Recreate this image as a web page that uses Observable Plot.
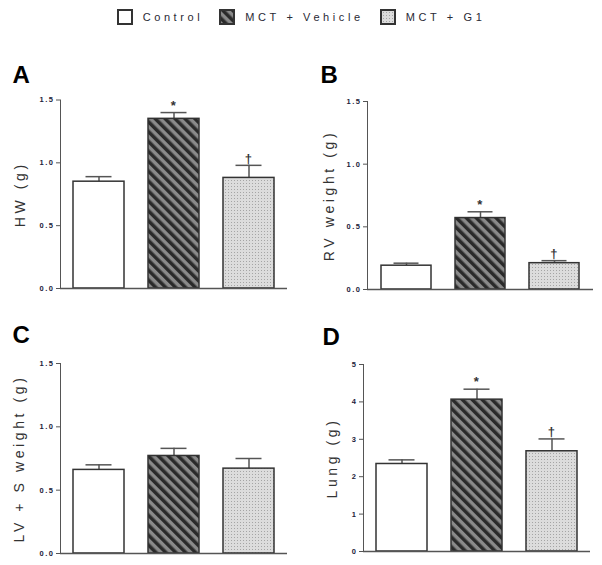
<!DOCTYPE html>
<html>
<head>
<meta charset="utf-8">
<script src="https://cdn.jsdelivr.net/npm/d3@7"></script>
<script src="https://cdn.jsdelivr.net/npm/@observablehq/plot@0.6"></script>
<style>
  body { margin: 0; background: #fff; font-family: "Liberation Sans", Arial, sans-serif; }
  #legend { position: relative; height: 45px; display: flex; justify-content: center; align-items: flex-start; padding-top: 9px; box-sizing: border-box; }
  .item { display: flex; align-items: center; margin: 0 8px; }
  .item span { font-size: 11px; letter-spacing: 3.6px; color: #2a2a35; margin-left: 10px; line-height: 15px; }
  #grid { display: grid; grid-template-columns: 301px 301px; }
  svg text { letter-spacing: 1.5px; }
  g[aria-label="y-axis tick label"] text { fill: #22223a; }
  .ylab text { letter-spacing: 3.6px; }
</style>
</head>
<body>
<svg width="0" height="0" style="position:absolute">
  <defs>
    <pattern id="hatch" patternUnits="userSpaceOnUse" width="7" height="7" patternTransform="rotate(-45)">
      <rect width="7" height="7" fill="#8a8a8a"></rect>
      <rect width="3.5" height="7" fill="#2a2a2a"></rect>
    </pattern>
    <pattern id="dots" patternUnits="userSpaceOnUse" width="3" height="3">
      <rect width="3" height="3" fill="#dcdcdc"></rect>
      <rect width="1" height="1" fill="#a5a5a5"></rect>
    </pattern>
  </defs>
</svg>
<div id="legend"></div>
<div id="grid"></div>
<script>
// ---- data ----
const groups = ["Control", "MCT + Vehicle", "MCT + G1"];
const fills = ["white", "url(#hatch)", "url(#dots)"];

const hwMean = [0.85, 1.35, 0.88];
const hwSem = [0.04, 0.05, 0.10];
const hwSig = ["", "*", "†"];

const rvMean = [0.19, 0.57, 0.21];
const rvSem = [0.02, 0.05, 0.02];
const rvSig = ["", "*", "†"];

const lvsMean = [0.66, 0.77, 0.67];
const lvsSem = [0.04, 0.06, 0.08];
const lvsSig = ["", "", ""];

const lungMean = [2.34, 4.06, 2.68];
const lungSem = [0.11, 0.28, 0.33];
const lungSig = ["", "*", "†"];

const ticks15 = [0, 0.5, 1.0, 1.5];
const ticks5 = [0, 1, 2, 3, 4, 5];

// ---- legend ----
const legend = document.getElementById("legend");
groups.forEach((g, i) => {
  const item = document.createElement("div");
  item.className = "item";
  item.innerHTML = `<svg width="16" height="16"><rect x="1" y="1" width="14" height="14" fill="${fills[i]}" stroke="#333" stroke-width="2"></rect></svg><span>${g}</span>`;
  legend.appendChild(item);
});

// ---- panels ----
function panel({mean, sem, sig, letter, label, domain, ticks, fmt, height, mL, mR, mT, mB, letterDx, letterDy, labelDx}) {
  const data = groups.map((g, i) => ({group: g, mean: mean[i], top: mean[i] + sem[i], sig: sig[i]}));
  const svg = Plot.plot({
    width: 301,
    height,
    marginLeft: mL,
    marginRight: mR,
    marginTop: mT,
    marginBottom: mB,
    style: {fontFamily: "Liberation Sans, Arial, sans-serif", fontSize: "7.5px", fontWeight: "bold", color: "#555", background: "white", overflow: "visible"},
    x: {domain: groups, axis: null, paddingInner: 0.32, paddingOuter: 0.17},
    y: {domain, ticks, tickFormat: fmt, tickSize: 4, tickPadding: 2, line: true, label: null},
    color: {type: "ordinal", domain: groups, range: fills},
    marks: [
      Plot.ruleX(data, {x: "group", y1: "mean", y2: "top", stroke: "#555", strokeWidth: 1.5}),
      Plot.tickY(data, {x: "group", y: "top", insetLeft: 12.5, insetRight: 12.5, stroke: "#555", strokeWidth: 1.5}),
      Plot.barY(data, {x: "group", y: "mean", fill: "group", stroke: "#333", strokeWidth: 1.5}),
      Plot.ruleY([0], {stroke: "#555", strokeWidth: 1.5}),
      Plot.text(data.filter(d => d.sig), {x: "group", y: "top", text: "sig", dy: -7, fontSize: 13, fontWeight: "bold", fill: "#333"}),
      Plot.text([letter], {frameAnchor: "top-left", textAnchor: "start", lineAnchor: "top", dx: letterDx, dy: letterDy, fontSize: 24, fontWeight: "bold", fill: "#000"}),
      Plot.text([label], {frameAnchor: "left", textAnchor: "middle", lineAnchor: "middle", rotate: -90, dx: labelDx, fontSize: 14, fontWeight: "normal", fill: "#333", className: "ylab"})
    ]
  });
  document.getElementById("grid").appendChild(svg);
}

const f1 = d3.format(".1f");
const f0 = d3.format("d");

panel({mean: hwMean, sem: hwSem, sig: hwSig, letter: "A", label: "HW (g)", domain: [0, 1.5], ticks: ticks15, fmt: f1,
  height: 255, mL: 60, mR: 14, mT: 54.5, mB: 12, letterDx: -48, letterDy: -34.5, labelDx: -40});
panel({mean: rvMean, sem: rvSem, sig: rvSig, letter: "B", label: "RV weight (g)", domain: [0, 1.5], ticks: ticks15, fmt: f1,
  height: 255, mL: 66, mR: 9, mT: 56, mB: 11, letterDx: -47, letterDy: -36, labelDx: -38});
panel({mean: lvsMean, sem: lvsSem, sig: lvsSig, letter: "C", label: "LV + S weight (g)", domain: [0, 1.5], ticks: ticks15, fmt: f1,
  height: 265, mL: 60, mR: 14, mT: 63, mB: 12, letterDx: -48, letterDy: -38, labelDx: -41});
panel({mean: lungMean, sem: lungSem, sig: lungSig, letter: "D", label: "Lung (g)", domain: [0, 5], ticks: ticks5, fmt: f0,
  height: 265, mL: 62, mR: 12, mT: 64, mB: 14, letterDx: -41, letterDy: -37, labelDx: -31});
</script>
</body>
</html>
